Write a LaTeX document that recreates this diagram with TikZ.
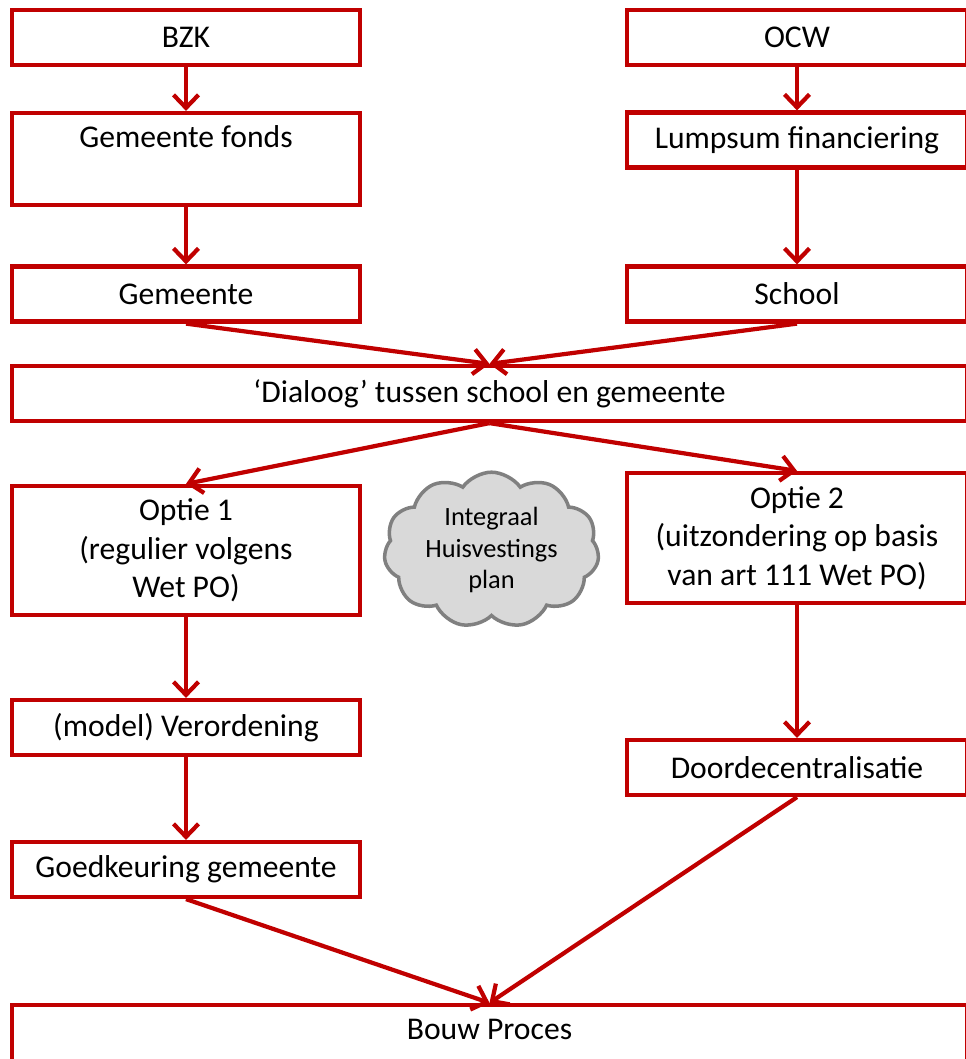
\documentclass[tikz,border=0pt]{standalone}
\usepackage{fontspec}
\setmainfont{Carlito}
\usetikzlibrary{arrows.meta,shapes.symbols}
\definecolor{rood}{HTML}{C00000}
\tikzset{
  blok/.style={draw=rood, line width=2.4pt, rectangle, minimum height=1.1cm,
    inner sep=2pt, align=center, font=\fontsize{18}{22}\selectfont},
  links/.style={blok, minimum width=6.96cm},
  rechts/.style={blok, minimum width=6.8cm},
  breed/.style={blok, minimum width=19.1cm},
  wolk/.style={cloud, cloud puffs=11, cloud puff arc=110, aspect=1.4,
    draw=black!50, fill=black!15, line width=2pt, minimum width=4.3cm,
    minimum height=3.1cm, inner sep=0pt, align=center,
    font=\fontsize{15}{18}\selectfont},
  pijl/.style={draw=rood, line width=2.4pt,
    -{Straight Barb[length=0.26cm,width=0.5cm]}}
}
\begin{document}
\begin{tikzpicture}
  \useasboundingbox (0,0) rectangle (19.3,-21.18);
  % linker kolom
  \node[links] (bzk) at (3.72,-0.75) {BZK};
  \node[links, minimum height=1.84cm, text depth=0.9cm] (fonds) at (3.72,-3.18) {Gemeente fonds};
  \node[links] (gemeente) at (3.72,-5.88) {Gemeente};
  % rechter kolom
  \node[rechts] (ocw) at (15.94,-0.75) {OCW};
  \node[rechts] (lumpsum) at (15.94,-2.8) {Lumpsum financiering};
  \node[rechts] (school) at (15.94,-5.88) {School};
  \node[breed] (dialoog) at (9.79,-7.87) {`Dialoog' tussen school en gemeente};
  \node[links, minimum height=2.58cm] (optie1) at (3.72,-11.01) {Optie 1\\(regulier volgens\\Wet PO)};
  \node[rechts, minimum height=2.6cm] (optie2) at (15.94,-10.76) {Optie 2\\(uitzondering op basis\\van art 111 Wet PO)};
  \node[wolk] (ihp) at (9.83,-11.0) {Integraal\\Huisvestings\\plan};
  \node[links] (verordening) at (3.72,-14.55) {(model) Verordening};
  \node[rechts] (doordec) at (15.94,-15.35) {Doordecentralisatie};
  \node[links] (goedkeuring) at (3.72,-17.39) {Goedkeuring gemeente};
  \node[breed, minimum height=1.3cm, text depth=0.34cm] (bouw) at (9.79,-20.75) {Bouw Proces};
  % pijlen
  \path (bzk) edge[pijl] (fonds) (fonds) edge[pijl] (gemeente);
  \path (ocw) edge[pijl] (lumpsum) (lumpsum) edge[pijl] (school);
  \path (gemeente.south) edge[pijl] (dialoog.north) (school.south) edge[pijl] (dialoog.north);
  \path (dialoog.south) edge[pijl] (optie1.north) (dialoog.south) edge[pijl] (optie2.north);
  \path (optie1) edge[pijl] (verordening) (verordening) edge[pijl] (goedkeuring);
  \path (optie2) edge[pijl] (doordec);
  \path (goedkeuring.south) edge[pijl] (bouw.north) (doordec.south) edge[pijl] (bouw.north);
\end{tikzpicture}
\end{document}
